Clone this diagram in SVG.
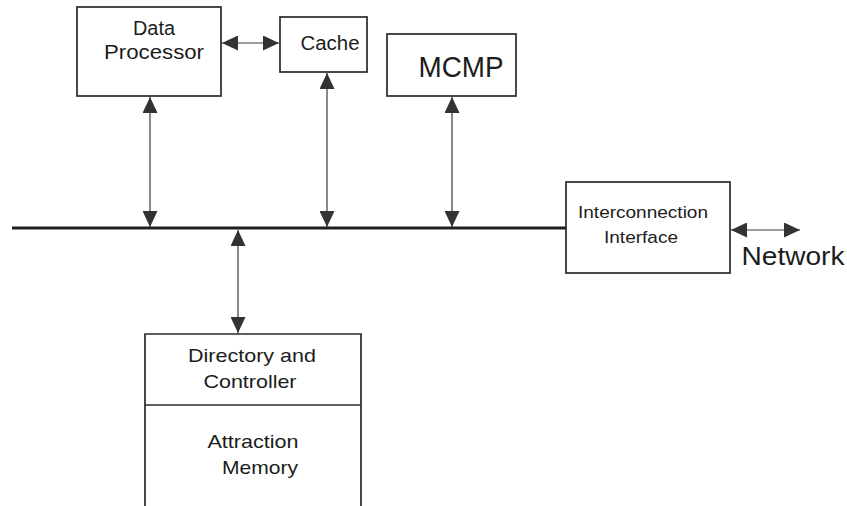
<svg xmlns="http://www.w3.org/2000/svg" width="847" height="506" viewBox="0 0 847 506">
  <style>
    .box { fill: #ffffff; stroke: #2a2a2a; stroke-width: 1.7; }
    .lbl { font-family: "Liberation Sans", Arial, sans-serif; fill: #1c1c1c; text-anchor: middle; }
    .link { stroke: #3a3a3a; stroke-width: 1.2; fill: none; marker-start: url(#head); marker-end: url(#head); }
    .bus { stroke: #1e1e1e; stroke-width: 3; fill: none; }
  </style>
  <defs>
    <marker id="head" markerUnits="userSpaceOnUse" markerWidth="16" markerHeight="15" viewBox="0 0 16 15" refX="16" refY="7.5" orient="auto-start-reverse">
      <path d="M0,0 L16,7.5 L0,15 Z" fill="#333333"/>
    </marker>
  </defs>
  <rect width="847" height="506" fill="#ffffff"/>

  <g id="connectors">
    <line class="bus" x1="12" y1="228" x2="566" y2="228"/>
    <line class="link" x1="222" y1="43" x2="279" y2="43"/>
    <line class="link" x1="150" y1="97" x2="150" y2="227"/>
    <line class="link" x1="327" y1="73" x2="327" y2="227"/>
    <line class="link" x1="452" y1="97" x2="452" y2="227"/>
    <line class="link" x1="238" y1="230" x2="238" y2="333"/>
    <line class="link" x1="731" y1="230" x2="800" y2="230"/>
  </g>

  <g id="data-processor">
    <rect class="box" x="77" y="7" width="144" height="89"/>
    <text class="lbl" x="154" y="35" font-size="20" textLength="42" lengthAdjust="spacingAndGlyphs">Data</text>
    <text class="lbl" x="154" y="59" font-size="20" textLength="100" lengthAdjust="spacingAndGlyphs">Processor</text>
  </g>

  <g id="cache">
    <rect class="box" x="280" y="17" width="87" height="55"/>
    <text class="lbl" x="330" y="50" font-size="20" textLength="59" lengthAdjust="spacingAndGlyphs">Cache</text>
  </g>

  <g id="mcmp">
    <rect class="box" x="387" y="34" width="129" height="62"/>
    <text class="lbl" x="461" y="77" font-size="30" textLength="85" lengthAdjust="spacingAndGlyphs">MCMP</text>
  </g>

  <g id="interconnection-interface">
    <rect class="box" x="566" y="182" width="164" height="91"/>
    <text class="lbl" x="643" y="218" font-size="16" textLength="130" lengthAdjust="spacingAndGlyphs">Interconnection</text>
    <text class="lbl" x="641" y="243" font-size="16" textLength="74" lengthAdjust="spacingAndGlyphs">Interface</text>
  </g>

  <g id="network">
    <text class="lbl" x="793" y="265" font-size="25" textLength="103" lengthAdjust="spacingAndGlyphs">Network</text>
  </g>

  <g id="directory-memory">
    <path class="box" d="M145,512 V334 H361 V512"/>
    <line x1="145" y1="405" x2="361" y2="405" stroke="#2a2a2a" stroke-width="1.7"/>
    <text class="lbl" x="252" y="362" font-size="19" textLength="128" lengthAdjust="spacingAndGlyphs">Directory and</text>
    <text class="lbl" x="250" y="388" font-size="19" textLength="93" lengthAdjust="spacingAndGlyphs">Controller</text>
    <text class="lbl" x="253" y="448" font-size="19" textLength="91" lengthAdjust="spacingAndGlyphs">Attraction</text>
    <text class="lbl" x="260" y="474" font-size="19" textLength="76" lengthAdjust="spacingAndGlyphs">Memory</text>
  </g>
</svg>
